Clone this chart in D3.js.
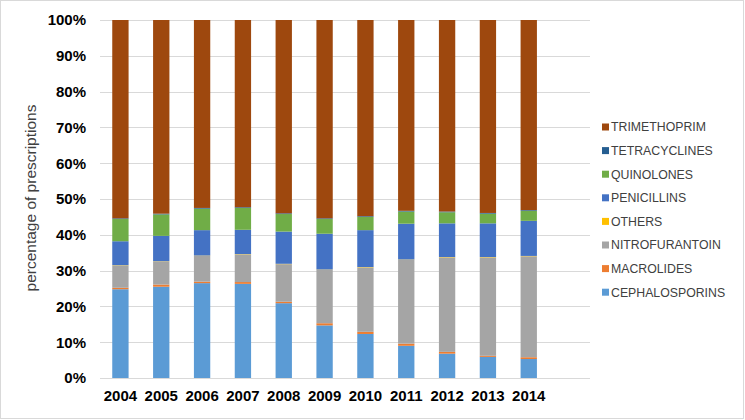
<!DOCTYPE html>
<html>
<head>
<meta charset="utf-8">
<script src="https://cdn.jsdelivr.net/npm/d3@7"></script>
<style>
  body { margin: 0; background: #fff; }
  svg { font-family: "Liberation Sans", Arial, sans-serif; }
</style>
</head>
<body>
<svg id="chart" width="745" height="420"></svg>
<script>
// Data: share of prescriptions (%) per antibiotic class, per year
const years = ["2004","2005","2006","2007","2008","2009","2010","2011","2012","2013","2014"];
const cephalosporins = [24.8, 25.5, 26.5, 26.3, 20.9, 14.7, 12.3, 9.0, 6.8, 5.9, 5.3];
const macrolides     = [0.4, 0.6, 0.4, 0.5, 0.4, 0.6, 0.6, 0.6, 0.5, 0.3, 0.5];
const nitrofurantoin = [6.2, 6.4, 7.2, 7.7, 10.5, 14.9, 18.0, 23.4, 26.4, 27.5, 28.2];
const others         = [0.1, 0.1, 0.1, 0.1, 0.1, 0.1, 0.1, 0.1, 0.1, 0.1, 0.1];
const penicillins    = [6.7, 7.1, 7.1, 6.8, 9.0, 10.0, 10.3, 10.0, 9.4, 9.4, 9.8];
const quinolones     = [6.2, 6.0, 6.0, 6.1, 4.9, 4.1, 3.7, 3.4, 3.1, 2.7, 2.8];
const tetracyclines  = [0.2, 0.2, 0.2, 0.2, 0.2, 0.2, 0.2, 0.2, 0.2, 0.2, 0.2];
const trimethoprim   = [55.4, 54.1, 52.5, 52.3, 54.0, 55.4, 54.8, 53.3, 53.5, 53.9, 53.1];

const seriesNames = ["CEPHALOSPORINS","MACROLIDES","NITROFURANTOIN","OTHERS","PENICILLINS","QUINOLONES","TETRACYCLINES","TRIMETHOPRIM"];
const seriesValues = [cephalosporins, macrolides, nitrofurantoin, others, penicillins, quinolones, tetracyclines, trimethoprim];
const seriesColors = ["#5B9BD5","#ED7D31","#A5A5A5","#FFC000","#4472C4","#70AD47","#255E91","#9E480E"];
const yTicks = [0,10,20,30,40,50,60,70,80,90,100];

const rows = years.map((y, i) => {
  const r = {year: y};
  seriesNames.forEach((s, k) => r[s] = seriesValues[k][i]);
  return r;
});

const svg = d3.select("#chart");
const margin = {left: 100, right: 155, top: 20, bottom: 42};
const W = 745, H = 420;

// chart area border
svg.append("rect")
  .attr("x", 0.5).attr("y", 0.5)
  .attr("width", W - 2).attr("height", H - 2)
  .attr("fill", "#fff").attr("stroke", "#D9D9D9");

// one empty slot at the end, as in the original
const x = d3.scaleBand()
  .domain(years.concat([""]))
  .range([margin.left, W - margin.right])
  .paddingInner(0.6).paddingOuter(0.3);

const y = d3.scaleLinear().domain([0, 100]).range([H - margin.bottom, margin.top]);

// gridlines
svg.append("g")
  .selectAll("line")
  .data(yTicks)
  .join("line")
  .attr("x1", margin.left).attr("x2", W - margin.right)
  .attr("y1", d => Math.round(y(d)) + 0.5).attr("y2", d => Math.round(y(d)) + 0.5)
  .attr("stroke", "#D9D9D9").attr("stroke-width", 1);

// stacked bars
const stack = d3.stack().keys(seriesNames)(rows);
svg.append("g")
  .selectAll("g")
  .data(stack)
  .join("g")
  .attr("fill", (d, i) => seriesColors[i])
  .selectAll("rect")
  .data(d => d)
  .join("rect")
  .attr("x", d => x(d.data.year))
  .attr("width", x.bandwidth())
  .attr("y", d => y(d[1]))
  .attr("height", d => y(d[0]) - y(d[1]));

// y axis labels
const yAxis = d3.axisLeft(y).tickValues(yTicks).tickFormat(d => d + "%").tickSize(0).tickPadding(14);
const yg = svg.append("g").attr("transform", `translate(${margin.left},0)`).call(yAxis);
yg.select(".domain").remove();
yg.selectAll("text")
  .attr("font-size", 15).attr("font-weight", "bold").attr("fill", "#000")
  .attr("font-family", "Liberation Sans, Arial, sans-serif");

// x axis labels
const xAxis = d3.axisBottom(x).tickValues(years).tickSize(0).tickPadding(12);
const xg = svg.append("g").attr("transform", `translate(0,${H - margin.bottom})`).call(xAxis);
xg.select(".domain").remove();
xg.selectAll("text")
  .attr("font-size", 15).attr("font-weight", "bold").attr("fill", "#000")
  .attr("font-family", "Liberation Sans, Arial, sans-serif");

// y axis title
svg.append("text")
  .attr("transform", `translate(36,198) rotate(-90)`)
  .attr("text-anchor", "middle")
  .attr("font-size", 15.5)
  .attr("fill", "#404040")
  .text("percentage of prescriptions");

// legend (reverse order, top = last series)
const legend = svg.append("g").attr("transform", "translate(602,127)");
const legendItems = legend.selectAll("g")
  .data(seriesNames.slice().reverse())
  .join("g")
  .attr("transform", (d, i) => `translate(0,${i * 23.6})`);
legendItems.append("rect")
  .attr("x", 0).attr("y", -3.5).attr("width", 7).attr("height", 7)
  .attr("fill", d => seriesColors[seriesNames.indexOf(d)]);
legendItems.append("text")
  .attr("x", 9).attr("dy", "0.36em")
  .attr("font-size", 12.3)
  .attr("fill", "#404040")
  .text(d => d);
</script>
</body>
</html>
